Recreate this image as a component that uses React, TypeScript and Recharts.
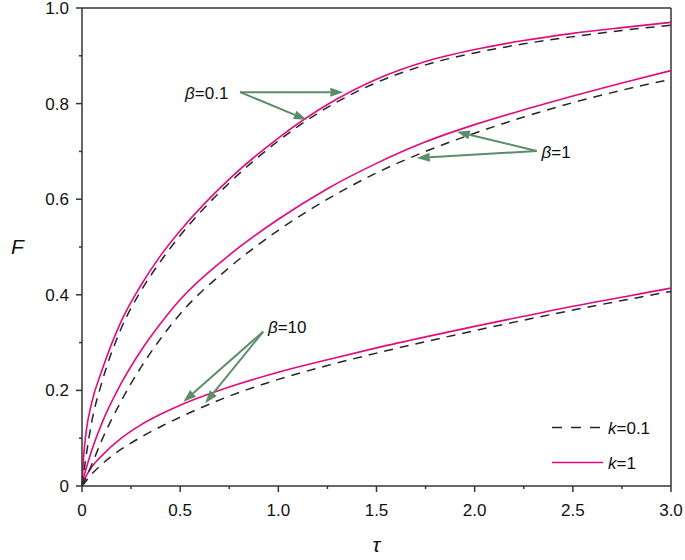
import React from "react";
import {
  LineChart,
  Line,
  XAxis,
  YAxis,
  ReferenceLine,
  ReferenceDot,
} from "recharts";

// tau grid and F values
const tau = [0, 0.01, 0.02, 0.05, 0.1, 0.2, 0.3, 0.4, 0.5, 0.75, 1.0, 1.25, 1.5, 1.75, 2.0, 2.25, 2.5, 2.75, 3.0];

// beta = 0.1
const b01k1 = [0, 0.07, 0.11, 0.175, 0.24, 0.345, 0.42, 0.482, 0.534, 0.642, 0.728, 0.798, 0.851, 0.888, 0.913, 0.932, 0.947, 0.959, 0.97];
const b01k01 = [0, 0.03, 0.06, 0.135, 0.215, 0.33, 0.408, 0.47, 0.524, 0.634, 0.722, 0.792, 0.844, 0.881, 0.906, 0.925, 0.94, 0.953, 0.964];
// beta = 1
const b1k1 = [0, 0.02, 0.035, 0.075, 0.13, 0.215, 0.283, 0.34, 0.39, 0.483, 0.558, 0.622, 0.675, 0.72, 0.756, 0.787, 0.816, 0.843, 0.869];
const b1k01 = [0, 0.008, 0.017, 0.045, 0.095, 0.178, 0.248, 0.308, 0.36, 0.457, 0.535, 0.6, 0.655, 0.7, 0.738, 0.772, 0.802, 0.828, 0.851];
// beta = 10
const b10k1 = [0, 0.012, 0.02, 0.04, 0.063, 0.1, 0.128, 0.15, 0.169, 0.207, 0.238, 0.264, 0.289, 0.312, 0.334, 0.355, 0.376, 0.395, 0.414];
const b10k01 = [0, 0.005, 0.01, 0.025, 0.045, 0.077, 0.102, 0.124, 0.144, 0.188, 0.223, 0.252, 0.278, 0.302, 0.325, 0.347, 0.368, 0.388, 0.407];

const xTicks = [0, 0.25, 0.5, 0.75, 1.0, 1.25, 1.5, 1.75, 2.0, 2.25, 2.5, 2.75, 3.0];
const yTicks = [0, 0.1, 0.2, 0.3, 0.4, 0.5, 0.6, 0.7, 0.8, 0.9, 1.0];

const data = tau.map((t, i) => ({
  tau: t,
  b01k1: b01k1[i],
  b01k01: b01k01[i],
  b1k1: b1k1[i],
  b1k01: b1k01[i],
  b10k1: b10k1[i],
  b10k01: b10k01[i],
}));

// annotation labels and arrows, in data coordinates
const labels = [
  { text: "0.1", x: 0.525, y: 0.822 },
  { text: "1", x: 2.341, y: 0.699 },
  { text: "10", x: 0.947, y: 0.333 },
];
const arrows = [
  { from: { x: 0.805, y: 0.824 }, to: { x: 1.331, y: 0.824 } },
  { from: { x: 0.805, y: 0.824 }, to: { x: 1.145, y: 0.766 } },
  { from: { x: 2.316, y: 0.701 }, to: { x: 1.909, y: 0.741 } },
  { from: { x: 2.316, y: 0.701 }, to: { x: 1.705, y: 0.686 } },
  { from: { x: 0.923, y: 0.323 }, to: { x: 0.516, y: 0.176 } },
  { from: { x: 0.923, y: 0.323 }, to: { x: 0.627, y: 0.173 } },
];

const FONT = "'Liberation Sans', Arial, sans-serif";
const AXIS = "#3a3333";
const PINK = "#e3097f";
const DASH = "#2a2424";
const GREEN = "#5d8c69";

const fmt = (v: number) => (v === 0 ? "0" : v.toFixed(1));

const XTick = (props: any) => {
  const { x, y, payload } = props;
  const v = payload.value;
  const major = Math.abs(v * 2 - Math.round(v * 2)) < 1e-6;
  return (
    <g>
      <line x1={x} x2={x} y1={y} y2={y + (major ? 6 : 3)} stroke={AXIS} strokeWidth={1.5} />
      {major && (
        <text x={x} y={y + 30} textAnchor="middle" fontSize={17} fontFamily={FONT} fill="#111">
          {fmt(v)}
        </text>
      )}
    </g>
  );
};

const YTick = (props: any) => {
  const { x, y, payload } = props;
  const v = payload.value;
  const major = Math.round(v * 10) % 2 === 0;
  return (
    <g>
      <line x1={x} x2={x - (major ? 6 : 3)} y1={y} y2={y} stroke={AXIS} strokeWidth={1.5} />
      {major && (
        <text x={x - 13} y={y + 6} textAnchor="end" fontSize={17} fontFamily={FONT} fill="#111">
          {fmt(v)}
        </text>
      )}
    </g>
  );
};

const Arrow = (props: any) => {
  const { x1, y1, x2, y2 } = props;
  const a = Math.atan2(y2 - y1, x2 - x1);
  const L = 13;
  const W = 4.5;
  const bx = x2 - L * Math.cos(a);
  const by = y2 - L * Math.sin(a);
  const pts = [
    [x2, y2],
    [bx - W * Math.sin(a), by + W * Math.cos(a)],
    [bx + W * Math.sin(a), by - W * Math.cos(a)],
  ]
    .map((p) => p.join(","))
    .join(" ");
  return (
    <g>
      <line x1={x1} y1={y1} x2={bx} y2={by} stroke={GREEN} strokeWidth={2} />
      <polygon points={pts} fill={GREEN} />
    </g>
  );
};

const BetaLabel = (text: string) => (props: any) => (
  <text x={props.cx} y={props.cy + 6} fontSize={17} fontFamily={FONT} fill="#111">
    <tspan fontStyle="italic">β</tspan>={text}
  </text>
);

export default function App() {
  return (
    <div style={{ position: "absolute", left: 0, top: 0, width: 685, height: 560, background: "#fff" }}>
      <LineChart width={685} height={560} data={data} margin={{ top: 8, right: 14, left: 0, bottom: 0 }}>
        <XAxis
          dataKey="tau"
          type="number"
          domain={[0, 3]}
          ticks={xTicks}
          interval={0}
          height={74}
          tickSize={0}
          tickMargin={0}
          tickLine={false}
          tick={<XTick />}
          axisLine={{ stroke: AXIS, strokeWidth: 1.5 }}
          label={{ value: "τ", position: "insideBottom", offset: 8, fontSize: 21, fontStyle: "italic", fill: "#111", fontFamily: FONT }}
        />
        <YAxis
          type="number"
          domain={[0, 1]}
          ticks={yTicks}
          interval={0}
          width={82}
          tickSize={0}
          tickMargin={0}
          tickLine={false}
          tick={<YTick />}
          axisLine={{ stroke: AXIS, strokeWidth: 1.5 }}
          label={{ value: "F", position: "insideLeft", offset: 11, fontSize: 21, fontStyle: "italic", fill: "#111", fontFamily: FONT }}
        />
        <ReferenceLine y={1} stroke={AXIS} strokeWidth={1.5} />
        <ReferenceLine x={3} stroke={AXIS} strokeWidth={1.5} />

        <Line type="monotone" dataKey="b01k1" stroke={PINK} strokeWidth={1.6} dot={false} isAnimationActive={false} />
        <Line type="monotone" dataKey="b1k1" stroke={PINK} strokeWidth={1.6} dot={false} isAnimationActive={false} />
        <Line type="monotone" dataKey="b10k1" stroke={PINK} strokeWidth={1.6} dot={false} isAnimationActive={false} />
        <Line type="monotone" dataKey="b01k01" stroke={DASH} strokeWidth={1.5} strokeDasharray="9 7" dot={false} isAnimationActive={false} />
        <Line type="monotone" dataKey="b1k01" stroke={DASH} strokeWidth={1.5} strokeDasharray="9 7" dot={false} isAnimationActive={false} />
        <Line type="monotone" dataKey="b10k01" stroke={DASH} strokeWidth={1.5} strokeDasharray="9 7" dot={false} isAnimationActive={false} />

        {arrows.map((a, i) => (
          <ReferenceLine key={"ar" + i} segment={[a.from, a.to]} shape={Arrow} ifOverflow="visible" />
        ))}
        {labels.map((l, i) => (
          <ReferenceDot key={"lb" + i} x={l.x} y={l.y} r={0} shape={BetaLabel(l.text)} ifOverflow="visible" />
        ))}
      </LineChart>

      <svg width={140} height={70} style={{ position: "absolute", left: 548, top: 410 }}>
        <line x1={4} x2={55} y1={17.5} y2={17.5} stroke={DASH} strokeWidth={1.5} strokeDasharray="10 9" />
        <text x={60} y={23.5} fontSize={17} fontFamily={FONT} fill="#111">
          <tspan fontStyle="italic">k</tspan>=0.1
        </text>
        <line x1={4} x2={55} y1={52.5} y2={52.5} stroke={PINK} strokeWidth={1.6} />
        <text x={60} y={58.5} fontSize={17} fontFamily={FONT} fill="#111">
          <tspan fontStyle="italic">k</tspan>=1
        </text>
      </svg>
    </div>
  );
}
